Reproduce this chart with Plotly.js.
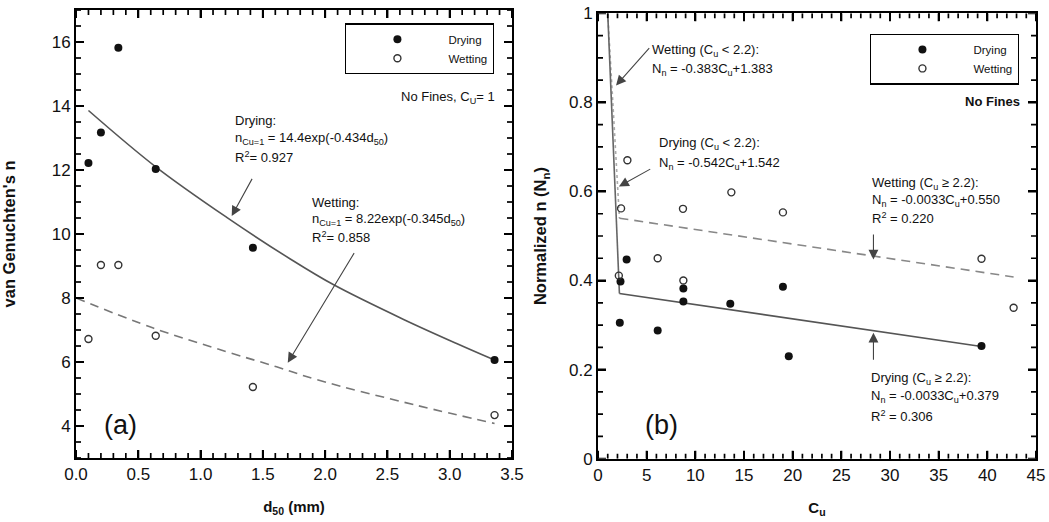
<!DOCTYPE html>
<html>
<head>
<meta charset="utf-8">
<script src="https://cdn.plot.ly/plotly-3.0.1.min.js"></script>
<style>html,body{margin:0;padding:0;background:#fff;}#chart{width:1049px;height:522px;}</style>
</head>
<body>
<div id="chart"></div>
<script>
// ---- Panel (a): van Genuchten's n vs d50 ----
const d50Drying = [0.10, 0.20, 0.34, 0.64, 1.42, 3.36];
const nDrying   = [12.22, 13.17, 15.82, 12.03, 9.57, 6.06];
const d50Wetting = [0.10, 0.20, 0.34, 0.64, 1.42, 3.36];
const nWetting   = [6.72, 9.03, 9.03, 6.82, 5.22, 4.34];
// fitted curves
const fitDryingX_a = [0.10, 0.64, 1.21, 1.72, 2.065, 2.63, 3.06, 3.36];
const fitDryingY_a = [13.86, 12.10, 10.52, 9.22, 8.42, 7.33, 6.57, 6.06];
const fitWettingX_a = [0.0, 0.62, 1.21, 1.61, 1.93, 2.73, 3.36];
const fitWettingY_a = [8.0, 7.06, 6.32, 5.85, 5.45, 4.65, 4.08];
const xRange_a = [0, 3.5], yRange_a = [3, 17];
const xTickStep_a = 0.5, xMinorStep_a = 0.1;
const yTickStep_a = 2, yMinorStep_a = 0.5;

// ---- Panel (b): normalized n vs Cu ----
const cuDrying = [2.31, 2.94, 2.24, 6.13, 8.77, 8.77, 13.59, 19.0, 19.6, 39.4];
const nnDrying = [0.398, 0.447, 0.305, 0.288, 0.382, 0.353, 0.348, 0.386, 0.230, 0.253];
const cuWetting = [2.14, 2.37, 3.02, 6.13, 8.77, 8.73, 13.7, 19.0, 39.4, 42.7];
const nnWetting = [0.411, 0.562, 0.670, 0.450, 0.400, 0.561, 0.598, 0.553, 0.449, 0.339];
const fitDryingSteepX_b = [1.0, 2.2];
const fitDryingSteepY_b = [1.0, 0.371];
const fitDryingX_b = [2.2, 39.4];
const fitDryingY_b = [0.371, 0.252];
const fitWettingSteepX_b = [1.0, 2.2];
const fitWettingSteepY_b = [1.0, 0.54];
const fitWettingX_b = [2.2, 42.7];
const fitWettingY_b = [0.54, 0.408];
const xRange_b = [0, 45], yRange_b = [0, 1];
const xTickStep_b = 5, xMinorStep_b = 1;
const yTickStep_b = 0.2, yMinorStep_b = 0.05;

const FONT = 'Liberation Sans, Arial, sans-serif';
const dryMarker = {symbol: 'circle', size: 8, color: '#111'};
const wetMarker = {symbol: 'circle-open', size: 7, color: '#333', line: {width: 1.4, color: '#333'}};

const traces = [
  {x: fitDryingX_a, y: fitDryingY_a, mode: 'lines', line: {color: '#555', width: 1.6, shape: 'spline'}, xaxis: 'x', yaxis: 'y', showlegend: false, hoverinfo: 'skip'},
  {x: fitWettingX_a, y: fitWettingY_a, mode: 'lines', line: {color: '#777', width: 1.6, dash: '9px,6px', shape: 'spline'}, xaxis: 'x', yaxis: 'y', showlegend: false, hoverinfo: 'skip'},
  {x: d50Drying, y: nDrying, mode: 'markers', name: 'Drying', marker: dryMarker, xaxis: 'x', yaxis: 'y', legend: 'legend'},
  {x: d50Wetting, y: nWetting, mode: 'markers', name: 'Wetting', marker: wetMarker, xaxis: 'x', yaxis: 'y', legend: 'legend'},

  {x: fitWettingSteepX_b, y: fitWettingSteepY_b, mode: 'lines', line: {color: '#aaa', width: 1.6, dash: 'dot'}, xaxis: 'x2', yaxis: 'y2', showlegend: false, hoverinfo: 'skip'},
  {x: fitDryingSteepX_b, y: fitDryingSteepY_b, mode: 'lines', line: {color: '#666', width: 1.6}, xaxis: 'x2', yaxis: 'y2', showlegend: false, hoverinfo: 'skip'},
  {x: fitDryingX_b, y: fitDryingY_b, mode: 'lines', line: {color: '#555', width: 1.6}, xaxis: 'x2', yaxis: 'y2', showlegend: false, hoverinfo: 'skip'},
  {x: fitWettingX_b, y: fitWettingY_b, mode: 'lines', line: {color: '#888', width: 1.6, dash: '9px,6px'}, xaxis: 'x2', yaxis: 'y2', showlegend: false, hoverinfo: 'skip'},
  {x: cuDrying, y: nnDrying, mode: 'markers', name: 'Drying', marker: dryMarker, xaxis: 'x2', yaxis: 'y2', legend: 'legend2'},
  {x: cuWetting, y: nnWetting, mode: 'markers', name: 'Wetting', marker: wetMarker, xaxis: 'x2', yaxis: 'y2', legend: 'legend2'}
];

function axisBase(extra) {
  return Object.assign({
    showline: true, linecolor: '#000', linewidth: 2, mirror: 'ticks',
    ticks: 'inside', ticklen: 8, tickwidth: 2, tickcolor: '#000',
    showgrid: false, zeroline: false, tickmode: 'linear', tick0: 0,
    tickfont: {family: FONT, size: 17, color: '#111'}
  }, extra);
}

// inward tick marks on all four sides of a panel (major + minor), drawn as pixel-sized shapes
function tickShapes(xref, yref, xr, yr, xMaj, xMin, yMaj, yMin) {
  const out = [];
  const line = (len) => ({color: '#000', width: len > 6 ? 2 : 1.7});
  const nx = Math.round((xr[1] - xr[0]) / xMin);
  for (let i = 0; i <= nx; i++) {
    const v = xr[0] + i * xMin;
    const isMaj = Math.abs(v / xMaj - Math.round(v / xMaj)) < 1e-6;
    const len = isMaj ? 8 : 5;
    out.push({type: 'line', layer: 'above', xref: xref, yref: yref, ysizemode: 'pixel', yanchor: yr[0], x0: v, x1: v, y0: 0, y1: len, line: line(len)});
    out.push({type: 'line', layer: 'above', xref: xref, yref: yref, ysizemode: 'pixel', yanchor: yr[1], x0: v, x1: v, y0: 0, y1: -len, line: line(len)});
  }
  const ny = Math.round((yr[1] - yr[0]) / yMin);
  for (let i = 0; i <= ny; i++) {
    const v = yr[0] + i * yMin;
    const isMaj = Math.abs(v / yMaj - Math.round(v / yMaj)) < 1e-6;
    const len = isMaj ? 8 : 5;
    out.push({type: 'line', layer: 'above', xref: xref, yref: yref, xsizemode: 'pixel', xanchor: xr[0], y0: v, y1: v, x0: 0, x1: len, line: line(len)});
    out.push({type: 'line', layer: 'above', xref: xref, yref: yref, xsizemode: 'pixel', xanchor: xr[1], y0: v, y1: v, x0: 0, x1: -len, line: line(len)});
  }
  return out;
}

const annFont = {family: FONT, size: 13, color: '#111'};
function txt(xref, yref, x, y, text, extra) {
  return Object.assign({xref: xref, yref: yref, x: x, y: y, text: text, showarrow: false, xanchor: 'left', yanchor: 'middle', font: annFont}, extra || {});
}
function arrow(xref, yref, x, y, ax, ay) {
  return {xref: xref, yref: yref, axref: xref, ayref: yref, x: x, y: y, ax: ax, ay: ay, text: '', showarrow: true, arrowhead: 2, arrowsize: 1.8, arrowwidth: 1.1, arrowcolor: '#444'};
}

const annotations = [
  // panel (a)
  txt('x', 'y', 1.26, 13.55, 'Drying:'),
  txt('x', 'y', 1.26, 12.98, 'n<sub>Cu=1</sub> = 14.4exp(-0.434d<sub>50</sub>)'),
  txt('x', 'y', 1.26, 12.40, 'R<sup>2</sup>= 0.927'),
  arrow('x', 'y', 1.25, 10.56, 1.42, 11.77),
  txt('x', 'y', 1.88, 10.97, 'Wetting:'),
  txt('x', 'y', 1.88, 10.44, 'n<sub>Cu=1</sub> = 8.22exp(-0.345d<sub>50</sub>)'),
  txt('x', 'y', 1.88, 9.91, 'R<sup>2</sup>= 0.858'),
  arrow('x', 'y', 1.70, 5.98, 2.24, 9.45),
  txt('x', 'y', 3.38, 14.28, 'No Fines, C<sub>U</sub>= 1', {xanchor: 'right'}),
  txt('x', 'y', 0.36, 4.02, '(a)', {xanchor: 'center', font: {family: FONT, size: 27, color: '#111'}}),
  // panel (b)
  txt('x2', 'y2', 5.34, 0.917, 'Wetting (C<sub>u</sub> &lt; 2.2):'),
  txt('x2', 'y2', 5.34, 0.873, 'N<sub>n</sub> = -0.383C<sub>u</sub>+1.383'),
  arrow('x2', 'y2', 1.85, 0.838, 5.40, 0.925),
  txt('x2', 'y2', 6.03, 0.708, 'Drying (C<sub>u</sub> &lt; 2.2):'),
  txt('x2', 'y2', 6.03, 0.663, 'N<sub>n</sub> = -0.542C<sub>u</sub>+1.542'),
  arrow('x2', 'y2', 2.15, 0.611, 5.52, 0.652),
  txt('x2', 'y2', 27.9, 0.617, 'Wetting (C<sub>u</sub> ≥ 2.2):'),
  txt('x2', 'y2', 27.9, 0.580, 'N<sub>n</sub> = -0.0033C<sub>u</sub>+0.550'),
  txt('x2', 'y2', 27.9, 0.541, 'R<sup>2</sup> = 0.220'),
  arrow('x2', 'y2', 28.3, 0.447, 28.3, 0.507),
  txt('x2', 'y2', 27.85, 0.181, 'Drying (C<sub>u</sub> ≥ 2.2):'),
  txt('x2', 'y2', 27.85, 0.139, 'N<sub>n</sub> = -0.0033C<sub>u</sub>+0.379'),
  txt('x2', 'y2', 27.85, 0.096, 'R<sup>2</sup> = 0.306'),
  arrow('x2', 'y2', 28.3, 0.283, 28.3, 0.219),
  txt('x2', 'y2', 43.6, 0.803, '<b>No Fines</b>', {xanchor: 'right'}),
  txt('x2', 'y2', 6.55, 0.075, '(b)', {xanchor: 'center', font: {family: FONT, size: 27, color: '#111'}})
];

const legendBase = {
  bgcolor: '#fff', bordercolor: '#000', borderwidth: 1.4,
  font: {family: FONT, size: 11.5, color: '#111'},
  itemwidth: 92, tracegroupgap: 0, xanchor: 'left', yanchor: 'top'
};

const shapes = [].concat(
  tickShapes('x', 'y', xRange_a, yRange_a, xTickStep_a, xMinorStep_a, yTickStep_a, yMinorStep_a),
  tickShapes('x2', 'y2', xRange_b, yRange_b, xTickStep_b, xMinorStep_b, yTickStep_b, yMinorStep_b)
);

const layout = {
  width: 1049, height: 522,
  margin: {l: 0, r: 0, t: 0, b: 0},
  paper_bgcolor: '#fff', plot_bgcolor: '#fff',
  showlegend: true,
  font: {family: FONT, color: '#111'},
  xaxis: axisBase({domain: [0.07245, 0.48808], range: xRange_a, dtick: xTickStep_a, tickformat: '.1f', anchor: 'y',
    title: {text: '<b>d<sub>50</sub> (mm)</b>', font: {family: FONT, size: 15, color: '#111'}, standoff: 18}}),
  yaxis: axisBase({domain: [0.12261, 0.98084], range: yRange_a, dtick: yTickStep_a, anchor: 'x',
    title: {text: "<b>van Genuchten's n</b>", font: {family: FONT, size: 16.5, color: '#111'}, standoff: 32}}),
  xaxis2: axisBase({domain: [0.57007, 0.98761], range: xRange_b, dtick: xTickStep_b, anchor: 'y2',
    title: {text: '<b>C<sub>u</sub></b>', font: {family: FONT, size: 15, color: '#111'}, standoff: 18}}),
  yaxis2: axisBase({domain: [0.12126, 0.97452], range: yRange_b, dtick: yTickStep_b, anchor: 'x2',
    title: {text: '<b>Normalized n (N<sub>n</sub>)</b>', font: {family: FONT, size: 16.5, color: '#111'}, standoff: 18}}),
  legend: Object.assign({x: 0.3289, y: 0.9554}, legendBase),
  legend2: Object.assign({x: 0.8294, y: 0.9358}, legendBase),
  shapes: shapes,
  annotations: annotations
};

Plotly.newPlot('chart', traces, layout, {displayModeBar: false, staticPlot: true});
</script>
</body>
</html>
